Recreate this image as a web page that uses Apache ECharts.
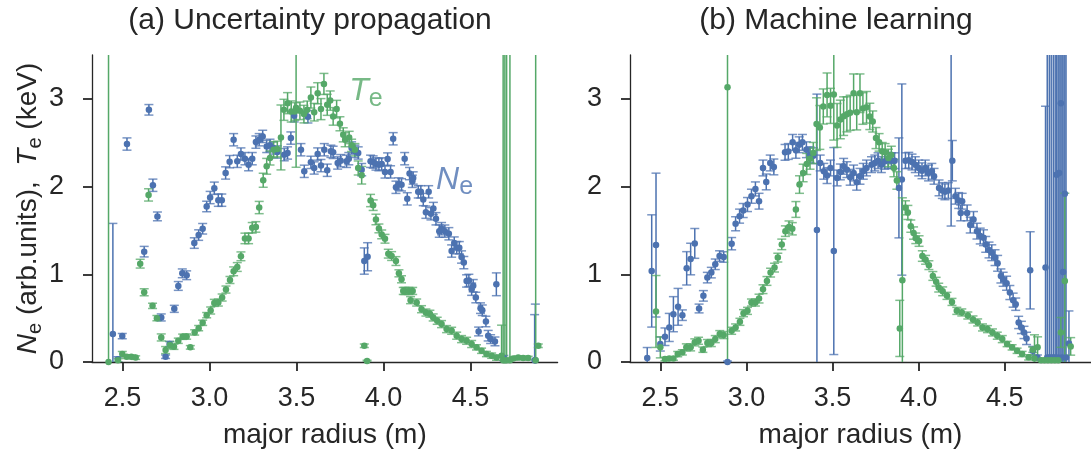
<!DOCTYPE html>
<html><head><meta charset="utf-8">
<script src="https://cdn.jsdelivr.net/npm/echarts@6/dist/echarts.min.js"></script>
<style>html,body{margin:0;padding:0;background:#fff}#c{width:1091px;height:454px}</style>
</head><body><div id="c"></div>
<script>
// ---------- data: [major radius (m), value, error] ----------
const xTicks = [2.5, 3.0, 3.5, 4.0, 4.5];
const yTicks = [0, 1, 2, 3];
const xRange = [2.324, 5.0];
const yRange = [0, 3.5];
const panelTitles = ['(a) Uncertainty propagation', '(b) Machine learning'];
const xName = 'major radius (m)';

// (a) Uncertainty propagation, Ne
const aNe = [[2.444,0.32,1.26],[2.473,0.03,0.03],[2.498,0.295,0.03],[2.525,2.485,0.07],[2.624,1.258,0.06],[2.651,2.875,0.06],[2.674,2.015,0.07],[2.700,1.66,0.05],[2.722,0.508,0.04],[2.747,0.06,0.02],[2.770,0.205,0.03],[2.797,0.606,0.04],[2.820,0.867,0.05],[2.843,1.011,0.05],[2.868,0.989,0.05],[2.912,1.356,0.06],[2.937,1.447,0.06],[2.960,1.519,0.06],[2.983,1.773,0.06],[3.003,1.875,0.07],[3.027,1.981,0.07],[3.050,1.845,0.07],[3.070,1.845,0.07],[3.092,2.155,0.07],[3.115,2.284,0.07],[3.138,2.534,0.07],[3.159,2.288,0.07],[3.180,2.371,0.07],[3.203,2.318,0.07],[3.224,2.250,0.07],[3.245,2.318,0.07],[3.266,2.507,0.07],[3.285,2.534,0.07],[3.305,2.572,0.07],[3.328,2.458,0.07],[3.347,2.470,0.07],[3.366,2.440,0.07],[3.389,2.394,0.07],[3.429,2.364,0.07],[3.448,2.383,0.07],[3.467,2.553,0.07],[3.486,2.807,0.07],[3.525,2.420,0.07],[3.544,2.174,0.07],[3.565,2.795,0.07],[3.582,2.276,0.07],[3.601,2.212,0.07],[3.621,2.371,0.07],[3.640,2.239,0.07],[3.659,2.420,0.07],[3.676,2.186,0.07],[3.697,2.402,0.07],[3.710,2.390,0.07],[3.736,2.269,0.07],[3.753,2.295,0.07],[3.787,2.288,0.07],[3.800,2.318,0.07],[3.816,2.440,0.07],[3.835,2.402,0.07],[3.854,2.383,0.07],[3.874,2.193,0.07],[3.889,1.151,0.15],[3.908,1.200,0.16],[3.925,2.288,0.07],[3.940,2.280,0.07],[3.956,2.258,0.07],[3.973,2.250,0.07],[3.989,2.258,0.07],[4.008,2.167,0.07],[4.023,2.314,0.07],[4.040,2.167,0.07],[4.055,2.545,0.07],[4.071,1.992,0.07],[4.088,2.030,0.07],[4.103,2.020,0.07],[4.121,2.318,0.07],[4.136,1.860,0.07],[4.149,2.148,0.07],[4.165,2.060,0.07],[4.170,2.098,0.07],[4.199,1.940,0.07],[4.214,1.940,0.07],[4.228,1.852,0.07],[4.243,1.708,0.07],[4.259,1.940,0.07],[4.272,1.690,0.07],[4.286,1.750,0.07],[4.301,1.633,0.07],[4.320,1.492,0.07],[4.333,1.520,0.07],[4.352,1.492,0.07],[4.375,1.462,0.07],[4.391,1.265,0.07],[4.406,1.356,0.07],[4.420,1.303,0.07],[4.435,1.303,0.07],[4.448,1.197,0.07],[4.461,1.133,0.07],[4.477,0.924,0.07],[4.490,0.930,0.07],[4.506,0.830,0.07],[4.515,0.870,0.07],[4.530,0.735,0.06],[4.546,0.348,0.05],[4.557,0.614,0.06],[4.567,0.590,0.06],[4.588,0.462,0.06],[4.601,0.300,0.06],[4.615,0.261,0.05],[4.640,0.235,0.05],[4.648,0.886,0.13],[4.691,0.045,0.03],[4.868,0.02,0.52],[4.872,0.02,0.64]];

// (a) Uncertainty propagation, Te
const aTe = [[2.419,0.0,4.0],[2.473,0.02,0.02],[2.498,0.09,0.03],[2.523,0.06,0.02],[2.550,0.06,0.02],[2.575,0.05,0.02],[2.601,1.121,0.05],[2.624,0.795,0.04],[2.649,1.905,0.07],[2.672,0.64,0.03],[2.697,0.50,0.03],[2.722,0.28,0.04],[2.747,0.136,0.04],[2.772,0.193,0.04],[2.795,0.174,0.03],[2.820,0.242,0.03],[2.845,0.288,0.03],[2.868,0.29,0.03],[2.889,0.167,0.02],[2.914,0.337,0.03],[2.937,0.386,0.03],[2.960,0.447,0.03],[2.983,0.534,0.03],[3.006,0.587,0.04],[3.027,0.674,0.04],[3.050,0.678,0.04],[3.072,0.735,0.04],[3.094,0.826,0.04],[3.117,0.935,0.04],[3.138,1.034,0.05],[3.159,1.083,0.05],[3.180,1.205,0.05],[3.203,1.409,0.06],[3.224,1.409,0.06],[3.245,1.53,0.06],[3.266,1.54,0.06],[3.285,1.761,0.07],[3.308,2.072,0.08],[3.328,2.231,0.09],[3.347,2.326,0.08],[3.368,2.42,0.09],[3.389,2.428,0.09],[3.410,2.56,0.37],[3.427,2.875,0.12],[3.448,2.951,0.12],[3.469,2.856,0.12],[3.490,2.856,0.10],[3.497,2.90,0.68],[3.519,2.864,0.10],[3.542,2.826,0.10],[3.561,2.875,0.10],[3.582,3.015,0.12],[3.601,2.848,0.10],[3.621,3.064,0.12],[3.640,2.883,0.12],[3.657,3.17,0.12],[3.676,2.932,0.12],[3.693,2.98,0.11],[3.710,2.80,0.10],[3.730,2.883,0.10],[3.749,2.716,0.08],[3.768,2.59,0.08],[3.779,2.534,0.08],[3.802,2.56,0.07],[3.816,2.47,0.07],[3.835,2.42,0.07],[3.854,2.212,0.08],[3.874,2.129,0.10],[3.889,0.185,0.02],[3.905,0.01,0.01],[3.925,1.841,0.07],[3.940,1.788,0.06],[3.956,1.625,0.06],[3.973,1.523,0.05],[3.989,1.455,0.05],[4.008,1.405,0.05],[4.027,1.235,0.05],[4.046,1.208,0.05],[4.071,1.151,0.05],[4.088,1.011,0.04],[4.103,0.943,0.04],[4.113,0.81,0.04],[4.122,0.81,0.04],[4.145,0.81,0.04],[4.155,0.705,0.04],[4.167,0.81,0.04],[4.190,0.678,0.04],[4.218,0.602,0.04],[4.243,0.564,0.04],[4.266,0.55,0.04],[4.285,0.508,0.04],[4.308,0.47,0.04],[4.333,0.432,0.04],[4.362,0.375,0.04],[4.391,0.356,0.04],[4.420,0.30,0.04],[4.448,0.261,0.04],[4.477,0.242,0.04],[4.506,0.205,0.04],[4.534,0.167,0.03],[4.563,0.128,0.03],[4.591,0.091,0.03],[4.621,0.072,0.03],[4.649,0.05,0.03],[4.678,0.07,0.35],[4.687,0.02,4.0],[4.697,0.02,4.0],[4.707,0.02,4.0],[4.726,0.02,4.0],[4.745,0.04,0.02],[4.774,0.05,0.02],[4.802,0.045,0.02],[4.831,0.045,0.02],[4.874,0.02,4.0],[4.889,0.185,0.02]];

// (b) Machine learning, Ne
const bNe = [[2.424,0.045,0.12],[2.450,1.038,0.64],[2.475,1.333,0.82],[2.500,0.205,0.08],[2.527,0.288,0.10],[2.552,0.394,0.16],[2.576,0.545,0.20],[2.603,0.629,0.21],[2.628,0.534,0.06],[2.653,1.068,0.19],[2.676,1.174,0.18],[2.700,1.352,0.17],[2.725,0.61,0.05],[2.750,0.754,0.06],[2.773,0.962,0.06],[2.796,1.019,0.06],[2.819,1.114,0.06],[2.844,1.208,0.06],[2.868,1.197,0.06],[2.890,0.0,0.01],[2.914,1.349,0.07],[2.937,1.576,0.08],[2.960,1.663,0.08],[2.981,1.727,0.08],[3.006,1.795,0.08],[3.029,1.89,0.08],[3.052,1.973,0.08],[3.073,1.833,0.09],[3.096,2.212,0.09],[3.115,2.053,0.09],[3.138,2.269,0.09],[3.159,2.224,0.09],[3.224,2.39,0.09],[3.243,2.40,0.09],[3.268,2.504,0.09],[3.287,2.413,0.09],[3.306,2.477,0.09],[3.325,2.504,0.09],[3.348,2.42,0.09],[3.369,2.364,0.09],[3.388,2.352,0.09],[3.409,1.504,1.55],[3.428,2.269,0.09],[3.449,2.174,0.09],[3.468,2.125,0.09],[3.488,2.212,0.09],[3.507,1.265,1.18],[3.526,2.098,0.09],[3.545,2.167,0.09],[3.564,2.231,0.09],[3.583,2.193,0.09],[3.602,2.106,0.09],[3.622,2.155,0.09],[3.640,2.049,0.09],[3.659,2.117,0.09],[3.678,2.174,0.09],[3.697,2.212,0.09],[3.726,2.25,0.09],[3.745,2.269,0.09],[3.764,2.295,0.09],[3.783,2.25,0.09],[3.803,2.288,0.09],[3.822,2.30,0.09],[3.841,2.295,0.09],[3.860,2.295,0.09],[3.885,1.985,0.57],[3.902,2.08,1.09],[3.923,2.295,0.09],[3.942,2.30,0.09],[3.961,2.28,0.09],[3.980,2.25,0.09],[4.000,2.212,0.09],[4.019,2.18,0.09],[4.038,2.212,0.09],[4.057,2.155,0.09],[4.076,2.174,0.09],[4.089,2.117,0.09],[4.118,1.985,0.09],[4.137,1.955,0.09],[4.152,1.94,0.09],[4.172,1.955,0.09],[4.188,3.8,2.25],[4.195,2.295,0.23],[4.213,1.89,0.09],[4.232,1.841,0.09],[4.244,1.70,0.09],[4.252,1.833,0.09],[4.281,1.70,0.09],[4.299,1.561,0.09],[4.318,1.625,0.09],[4.338,1.492,0.09],[4.357,1.436,0.09],[4.376,1.417,0.09],[4.389,1.341,0.09],[4.408,1.277,0.09],[4.424,1.246,0.09],[4.443,1.19,0.09],[4.458,1.125,0.09],[4.477,0.981,0.08],[4.490,0.943,0.08],[4.510,0.898,0.08],[4.529,0.792,0.08],[4.548,0.705,0.08],[4.563,0.659,0.07],[4.580,0.451,0.07],[4.596,0.394,0.07],[4.611,0.337,0.07],[4.626,0.269,0.07],[4.647,1.045,0.44],[4.662,0.128,0.05],[4.689,0.05,0.03],[4.736,1.076,1.84],[4.746,0.05,4.0],[4.758,0.05,4.0],[4.769,0.05,4.0],[4.781,0.05,4.0],[4.792,0.05,4.0],[4.800,2.136,3.0],[4.809,0.05,4.0],[4.815,2.155,3.0],[4.825,2.951,3.0],[4.832,0.05,4.0],[4.838,1.027,3.0],[4.848,1.917,3.0],[4.855,0.05,4.0],[4.872,0.212,0.37]];

// (b) Machine learning, Te
const bTe = [[2.475,0.576,0.41],[2.500,0.167,0.12],[2.527,0.034,0.02],[2.552,0.04,0.02],[2.576,0.04,0.02],[2.601,0.09,0.03],[2.628,0.11,0.03],[2.651,0.167,0.04],[2.676,0.167,0.04],[2.700,0.224,0.04],[2.722,0.242,0.04],[2.747,0.14,0.03],[2.773,0.216,0.04],[2.796,0.216,0.04],[2.819,0.261,0.04],[2.845,0.318,0.04],[2.868,0.307,0.04],[2.890,3.133,3.5],[2.914,0.356,0.04],[2.937,0.394,0.04],[2.962,0.458,0.04],[2.983,0.557,0.04],[3.006,0.583,0.04],[3.029,0.678,0.04],[3.052,0.678,0.04],[3.073,0.723,0.05],[3.096,0.83,0.05],[3.119,0.924,0.05],[3.140,1.019,0.05],[3.163,1.076,0.05],[3.182,1.19,0.05],[3.205,1.341,0.06],[3.226,1.492,0.06],[3.247,1.538,0.07],[3.266,1.519,0.07],[3.287,1.739,0.09],[3.308,2.023,0.10],[3.329,2.155,0.10],[3.350,2.258,0.12],[3.369,2.318,0.12],[3.388,2.383,0.12],[3.407,2.712,0.30],[3.426,2.674,0.25],[3.446,2.913,0.20],[3.468,3.045,0.25],[3.488,2.92,0.20],[3.507,3.05,0.52],[3.526,2.697,0.25],[3.545,2.765,0.22],[3.564,2.803,0.22],[3.583,2.824,0.20],[3.602,2.841,0.20],[3.622,3.064,0.22],[3.640,2.846,0.20],[3.659,3.064,0.22],[3.676,2.89,0.18],[3.697,2.904,0.18],[3.716,2.80,0.15],[3.733,2.742,0.12],[3.752,2.553,0.12],[3.770,2.504,0.10],[3.788,2.402,0.10],[3.805,2.39,0.10],[3.824,2.326,0.10],[3.841,2.36,0.10],[3.856,2.212,0.10],[3.873,2.07,0.10],[3.890,0.383,0.32],[3.905,0.932,0.94],[3.923,1.758,0.08],[3.937,1.705,0.08],[3.954,1.549,0.07],[3.970,1.47,0.07],[3.983,1.41,0.06],[4.002,1.379,0.06],[4.021,1.208,0.06],[4.040,1.165,0.05],[4.059,1.104,0.05],[4.082,0.981,0.05],[4.101,0.915,0.05],[4.116,0.848,0.05],[4.139,0.806,0.05],[4.164,0.754,0.04],[4.193,0.685,0.04],[4.221,0.583,0.04],[4.250,0.565,0.04],[4.285,0.53,0.04],[4.315,0.485,0.04],[4.342,0.451,0.04],[4.370,0.394,0.04],[4.399,0.375,0.04],[4.428,0.337,0.04],[4.456,0.30,0.04],[4.485,0.261,0.04],[4.513,0.205,0.03],[4.542,0.167,0.03],[4.571,0.128,0.03],[4.600,0.091,0.03],[4.638,0.053,0.03],[4.662,0.14,0.03],[4.672,0.04,0.27],[4.690,0.167,0.12],[4.710,0.02,0.02],[4.730,0.02,0.02],[4.750,0.02,0.02],[4.770,0.02,0.02],[4.790,0.02,0.02],[4.810,0.02,0.02],[4.825,0.337,0.17],[4.848,0.924,1.0],[4.882,0.178,0.10]];

// annotation anchors (data coordinates, panel a)
const labelTe = [3.898, 3.11];
const labelNe = [4.408, 2.10];

// ---------- chart ----------
const BLUE = '#4C72B0', GREEN = '#55A868', INK = '#262626';
const FONT = 'Liberation Sans, Arial, sans-serif';
const chart = echarts.init(document.getElementById('c'), null, {renderer: 'canvas'});

function errSeries(data, color, idx) {
  return {
    type: 'custom', xAxisIndex: idx, yAxisIndex: idx, clip: true, silent: true, z: 2,
    encode: {x: 0, y: 1},
    data: data,
    renderItem(params, api) {
      const x = api.value(0), y = api.value(1), e = api.value(2);
      const t = api.coord([x, y + e]), b = api.coord([x, y - e]);
      const hw = 4.5;
      return {type: 'group', children: [
        {type: 'line', shape: {x1: t[0], y1: t[1], x2: b[0], y2: b[1]}, style: {stroke: color, lineWidth: 1.5}},
        {type: 'line', shape: {x1: t[0] - hw, y1: t[1], x2: t[0] + hw, y2: t[1]}, style: {stroke: color, lineWidth: 1.5, opacity: 0.75}},
        {type: 'line', shape: {x1: b[0] - hw, y1: b[1], x2: b[0] + hw, y2: b[1]}, style: {stroke: color, lineWidth: 1.5, opacity: 0.75}}
      ]};
    }
  };
}
function dotSeries(data, color, idx) {
  return {type: 'scatter', xAxisIndex: idx, yAxisIndex: idx, symbolSize: 6.5, silent: true, z: 3,
    itemStyle: {color: color, opacity: 1}, data: data.map(d => [d[0], d[1]])};
}
function xAx(idx) {
  return {type: 'value', gridIndex: idx, min: xRange[0], max: xRange[1],
    name: xName, nameLocation: 'middle', nameGap: 59,
    nameTextStyle: {fontSize: 28, color: INK, fontFamily: FONT},
    axisLine: {show: true, onZero: false, lineStyle: {color: INK, width: 1.3}},
    axisTick: {show: true, length: 9, customValues: xTicks, lineStyle: {color: INK, width: 1.8}},
    axisLabel: {fontSize: 27, color: INK, fontFamily: FONT, margin: 23, customValues: xTicks, formatter: v => v.toFixed(1)},
    splitLine: {show: false}};
}
function yAx(idx, withName) {
  const ax = {type: 'value', gridIndex: idx, min: yRange[0], max: yRange[1],
    axisLine: {show: true, onZero: false, lineStyle: {color: INK, width: 1.3}},
    axisTick: {show: true, length: 9, customValues: yTicks, lineStyle: {color: INK, width: 1.8}},
    axisLabel: {fontSize: 27, color: INK, fontFamily: FONT, margin: 28, customValues: yTicks, formatter: v => String(v)},
    splitLine: {show: false}};
  if (withName) {
    ax.name = '{i|N}{s|e}{n| (arb.units),  }{i|T}{s|e}{n| (keV)}';
    ax.nameLocation = 'middle';
    ax.nameGap = 47;
    ax.nameTextStyle = {color: INK, fontFamily: FONT, fontSize: 28,
      rich: {
        i: {fontStyle: 'italic', fontSize: 28, fontFamily: FONT, color: INK, lineHeight: 32, verticalAlign: 'bottom'},
        s: {fontSize: 20, fontFamily: FONT, color: INK, lineHeight: 32, verticalAlign: 'bottom', padding: [0, 0, -3, 0]},
        n: {fontSize: 28, fontFamily: FONT, color: INK, lineHeight: 32, verticalAlign: 'bottom'}
      }};
  }
  return ax;
}
function annot(pos, letter, color) {
  return {type: 'scatter', xAxisIndex: 0, yAxisIndex: 0, symbolSize: 1, silent: true, z: 5,
    itemStyle: {color: 'rgba(0,0,0,0)'},
    data: [pos],
    label: {show: true, position: 'inside', formatter: '{a|' + letter + '}{b|e}',
      rich: {
        a: {fontStyle: 'italic', fontSize: 32, color: color, fontFamily: FONT, lineHeight: 36, verticalAlign: 'bottom'},
        b: {fontSize: 25, color: color, fontFamily: FONT, lineHeight: 36, verticalAlign: 'bottom', padding: [0, 0, -4, 0]}
      }}};
}

chart.setOption({
  animation: false,
  backgroundColor: '#ffffff',
  grid: [
    {left: 92, top: 55, width: 465.6, height: 308},
    {left: 630, top: 55, width: 467, height: 308}
  ],
  xAxis: [xAx(0), xAx(1)],
  yAxis: [yAx(0, true), yAx(1, false)],
  graphic: [
    {type: 'text', x: 310, y: 21, style: {text: panelTitles[0], fontSize: 30, fontFamily: FONT, fill: INK, align: 'center', verticalAlign: 'middle'}},
    {type: 'text', x: 836, y: 21, style: {text: panelTitles[1], fontSize: 30, fontFamily: FONT, fill: INK, align: 'center', verticalAlign: 'middle'}}
  ],
  series: [
    errSeries(aNe, BLUE, 0), dotSeries(aNe, BLUE, 0),
    errSeries(aTe, GREEN, 0), dotSeries(aTe, GREEN, 0),
    errSeries(bNe, BLUE, 1), dotSeries(bNe, BLUE, 1),
    errSeries(bTe, GREEN, 1), dotSeries(bTe, GREEN, 1),
    annot(labelTe, 'T', GREEN), annot(labelNe, 'N', BLUE)
  ]
});
</script>
</body></html>
